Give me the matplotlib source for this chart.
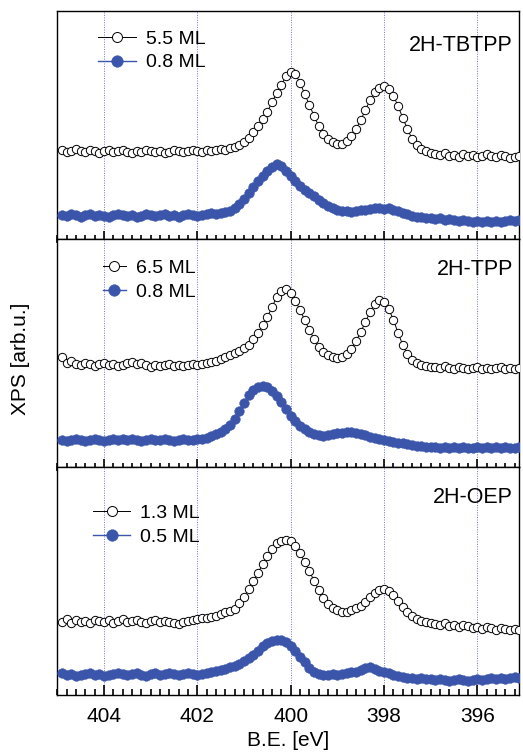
import numpy as np
import matplotlib
matplotlib.use('Agg')
import matplotlib.pyplot as plt
from matplotlib.ticker import MultipleLocator

plt.rcParams['font.family'] = ['Liberation Sans', 'DejaVu Sans']

# binding energy grid (eV), 404.9 -> 395.1 in 0.1 eV steps
be = np.linspace(404.9, 395.1, 99)

# 2H-TBTPP
tbtpp_thick = [89, 87, 88, 90, 88, 87, 89, 88, 86, 88, 89, 87, 88, 89, 87, 86, 88, 87, 89, 88,
               87, 88, 86, 87, 89, 88, 87, 88, 89, 88, 87, 89, 88, 89, 90, 89, 91,
               92, 94, 97, 101, 107, 113, 120, 127, 137, 146, 154, 163, 167, 165, 156, 145, 134, 123, 113, 105,
               100, 97, 95, 95, 98, 103, 110, 119, 129, 139, 147, 151, 153, 150, 143, 133, 121, 110, 100, 94,
               90, 88, 86,
               85, 84, 86, 83, 84, 82, 85, 83, 84, 82, 83, 85, 83, 82, 84, 83, 81, 82, 83]
tbtpp_thin = [24, 23, 25, 24, 22, 24, 25, 23, 24, 23, 22, 24, 25, 24, 23, 24, 22, 23, 25, 24,
              23, 24, 25, 23, 24, 22, 24, 25, 24, 23, 24, 25, 26, 25, 26,
              27, 28, 31, 35, 40, 46, 52, 58, 63, 68, 72, 75, 73, 68, 63, 58, 53, 49, 46, 43,
              39, 36, 33, 31, 29, 28, 28, 27, 28, 29, 29, 30, 31, 31, 30, 31, 29, 28, 26, 25,
              23, 22, 22, 21, 21,
              20, 21, 19, 20, 19, 18, 19, 18, 17, 18, 17, 18, 17, 18, 17, 18, 19, 18, 19]

# 2H-TPP
tpp_thick = [110, 104, 106, 103, 102, 104, 103, 101, 103, 104, 102, 103, 101, 102, 104, 105, 103, 104,
             102, 100, 102, 101, 102, 103, 101, 102, 101, 102, 103, 102, 103, 104, 105,
             106, 108, 110, 112, 114, 116, 119, 122, 128, 134, 142, 150, 160, 170, 176, 178, 174, 166, 157, 147,
             137, 128, 120, 115, 112, 110, 109, 110, 113, 118, 126, 135, 145, 155, 163, 167, 165, 158, 147, 134,
             122, 113, 107, 104, 102, 101, 100,
             100, 99, 101, 99, 98, 100, 99, 98, 99, 100, 98, 99, 98, 99, 100, 98, 99, 98, 99]
tpp_thin = [27, 26, 27, 28, 27, 26, 27, 28, 27, 26, 27, 28, 27, 28, 27, 28, 27, 26, 27, 28,
            27, 27, 28, 27, 26, 27, 28, 27, 27, 28, 28,
            29, 31, 33, 35, 38, 42, 48, 56, 64, 72, 77, 80, 81, 80, 76, 71, 65, 58, 51, 46,
            41, 38, 35, 33, 32, 31, 32, 33, 34, 34, 35, 35, 34, 33, 32, 30, 29, 28, 27, 26,
            25, 24, 24, 23, 22, 21, 21, 20, 20,
            20, 19, 20, 19, 20, 19, 20, 19, 19, 20, 19, 20, 19, 20, 19, 20, 19, 19, 20]

# 2H-OEP
oep_thick = [73, 76, 72, 75, 73, 74, 72, 75, 74, 73, 75, 72, 74, 76, 73, 74, 75, 73, 72, 74,
             75, 73, 74, 73, 72, 71, 73, 74, 75, 76, 77, 77,
             78, 79, 81, 83, 84, 86, 92, 98, 106, 114, 122, 131, 139, 146, 152, 154, 155, 154, 149, 142,
             133, 124, 114, 105, 97, 91, 87, 85, 83, 83, 85, 87, 89, 93, 98, 102, 105, 106, 104, 100,
             94, 88, 83, 79, 76, 74, 73, 72,
             71, 70, 72, 69, 70, 68, 70, 69, 67, 68, 66, 68, 67, 65, 67, 66, 65, 66, 65]
oep_thin = [22, 20, 21, 19, 20, 21, 22, 20, 21, 19, 20, 21, 22, 21, 20, 21, 22, 20, 19, 21,
            22, 20, 21, 22, 21, 20, 21, 22, 21, 20, 21, 22, 23, 24,
            25, 26, 28, 29, 31, 34, 37, 40, 44, 49, 52, 54, 55, 55, 53, 49, 44, 38, 33, 27,
            23, 21, 20, 20, 21, 20, 21, 22, 23, 23, 25, 27, 28, 26, 24, 23, 22, 20, 19, 18,
            17, 17, 16, 17, 16, 16,
            15, 16, 15, 14, 15, 16, 15, 14, 15, 16, 15, 16, 17, 16, 17, 16, 17, 18, 17]

names = ['2H-TBTPP', '2H-TPP', '2H-OEP']
thick = [tbtpp_thick, tpp_thick, oep_thick]
thin = [tbtpp_thin, tpp_thin, oep_thin]
labels_thick = ['5.5 ML', '6.5 ML', '1.3 ML']
labels_thin = ['0.8 ML', '0.8 ML', '0.5 ML']
guides = [404, 402, 400, 398, 396]

blue = '#3a55aa'

fig = plt.figure(figsize=(5.23, 7.55), dpi=100)
gs = fig.add_gridspec(3, 1, left=0.1096, right=0.9933, bottom=0.0795, top=0.9854, hspace=0)
axes = [fig.add_subplot(gs[i]) for i in range(3)]

leg_pos = [(0.088, 0.915), (0.098, 0.91), (0.078, 0.835)]
hlen = [1.95, 1.2, 1.9]
title_y = [0.85, 0.865, 0.868]

for i, ax in enumerate(axes):
    for g in guides:
        ax.axvline(g, color='#6f6fe0', lw=0.7, ls=(0, (1, 1.5)), zorder=0)
    ax.plot(be, thick[i], '-o', color='black', lw=0.7, ms=6.0, mfc='white', mec='black', mew=0.7,
            label=labels_thick[i], zorder=3)
    ax.plot(be, thin[i], '-o', color=blue, lw=1.0, ms=7.0, mfc=blue, mec=blue, mew=0.3,
            label=labels_thin[i], zorder=3)
    ax.set_xlim(405.0, 395.1)
    ax.set_ylim(0, 228)
    ax.set_yticks([])
    ax.xaxis.set_major_locator(MultipleLocator(2))
    ax.xaxis.set_minor_locator(MultipleLocator(0.2))
    for s in ax.spines.values():
        s.set_linewidth(1.0)
    if i < 2:
        ax.tick_params(axis='x', which='both', direction='inout', bottom=True, top=False,
                       labelbottom=False, color='black', width=1.2)
        ax.tick_params(axis='x', which='major', length=11)
        ax.tick_params(axis='x', which='minor', length=6)
    else:
        ax.tick_params(axis='x', which='both', direction='in', bottom=True, top=False,
                       color='black', width=1.2)
        ax.tick_params(axis='x', which='major', length=7, labelsize=15, pad=9)
        ax.tick_params(axis='x', which='minor', length=4)
    ax.text(0.986, title_y[i], names[i], transform=ax.transAxes, ha='right', va='center', fontsize=15.5)
    ax.legend(loc='upper left', bbox_to_anchor=leg_pos[i], frameon=False, fontsize=14,
              borderpad=0, borderaxespad=0, handlelength=hlen[i], handletextpad=0.5,
              labelspacing=0.3, markerscale=1.2)

axes[2].set_xlabel('B.E. [eV]', fontsize=15, labelpad=3)
fig.text(0.04, 0.525, 'XPS [arb.u.]', rotation=90, ha='center', va='center', fontsize=15)

fig.savefig('out.png', dpi=100)
plt.close()
